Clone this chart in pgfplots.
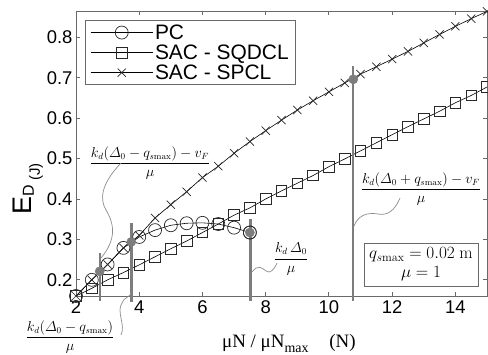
\documentclass[border=0pt]{standalone}
\usepackage{amsmath}
\usepackage[no-math]{fontspec}
\setmainfont{Liberation Sans}
\newfontfamily\serifrm{Liberation Serif}
\usepackage{pgfplots}
\pgfplotsset{compat=1.18}
\usepackage{pgfplotstable}
\definecolor{axiscol}{RGB}{105,105,105}
\definecolor{vcol}{RGB}{125,125,125}
\definecolor{leadcol}{RGB}{140,140,140}
\definecolor{mkcol}{RGB}{40,40,40}
\newcommand{\legfont}{\fontsize{21}{23}\selectfont}

\pgfplotstableread{
x y
2.0 0.160
2.5 0.200
3.0 0.238
3.5 0.279
4.0 0.306
4.5 0.323
5.0 0.335
5.5 0.340
6.0 0.341
6.5 0.338
7.0 0.329
7.5 0.317
}\pc
\pgfplotstableread{
x y
2.0 0.160
2.5 0.179
3.0 0.200
3.5 0.218
4.0 0.237
4.5 0.257
5.0 0.277
5.5 0.296
6.0 0.317
6.5 0.338
7.0 0.360
7.5 0.378
8.0 0.400
8.5 0.420
9.0 0.439
9.5 0.458
10.0 0.480
10.5 0.499
11.0 0.519
11.5 0.539
12.0 0.559
12.5 0.579
13.0 0.598
13.5 0.617
14.0 0.638
14.5 0.656
15.0 0.677
}\sqdcl
\pgfplotstableread{
x y
2.0 0.160
2.5 0.200
3.0 0.238
3.5 0.279
4.0 0.310
4.5 0.353
5.0 0.386
5.5 0.418
6.0 0.453
6.5 0.481
7.0 0.513
7.5 0.542
8.0 0.569
8.5 0.595
9.0 0.620
9.5 0.643
10.0 0.665
10.5 0.687
11.0 0.709
11.5 0.727
12.0 0.746
12.5 0.765
13.0 0.786
13.5 0.807
14.0 0.827
14.5 0.846
15.0 0.864
}\spcl

\begin{document}
\begin{tikzpicture}
\path[use as bounding box] (-76bp,-59bp) rectangle (412bp,296bp);
\begin{axis}[
  at={(0,0)}, anchor=south west,
  scale only axis, width=411bp, height=285bp,
  xmin=2, xmax=15, ymin=0.16, ymax=0.865,
  xtick={2,4,6,8,10,12,14},
  ytick={0.2,0.3,0.4,0.5,0.6,0.7,0.8},
  yticklabel style={/pgf/number format/.cd, fixed, fixed zerofill, precision=1},
  /pgf/number format/assume math mode=true,
  ticklabel style={font=\fontsize{18.5}{20}\selectfont, black},
  xticklabel style={yshift=-1bp},
  tick align=inside, major tick length=4bp,
  axis line style={axiscol, line width=0.9bp},
  tick style={axiscol, line width=0.9bp},
  clip=false,
  legend style={at={(0.022,0.968)}, anchor=north west, draw=axiscol, line width=0.8bp,
    font=\legfont, inner xsep=5bp, inner ysep=2bp,
    row sep=0bp, cells={anchor=west}},
  legend image code/.code={\draw[mark repeat=2,mark phase=2,#1] plot coordinates {(0bp,0bp) (31bp,0bp) (62bp,0bp)};},
]
\addplot[black, line width=0.6bp, mark=o, mark size=6.5bp, mark options={draw=mkcol, solid, line width=0.7bp}] table {\pc};
\addlegendentry{PC}
\addplot[black, line width=0.6bp, mark=square, mark size=5.3bp, mark options={draw=mkcol, solid, line width=0.7bp}] table {\sqdcl};
\addlegendentry{SAC - SQDCL}
\addplot[black, line width=0.6bp, mark=x, mark size=5.8bp, mark options={draw=mkcol, solid, line width=0.7bp}] table {\spcl};
\addlegendentry{SAC - SPCL}
% vertical marker lines
\addplot[vcol, line width=2.4bp, forget plot] coordinates {(2.75,0.148) (2.75,0.267)};
\addplot[vcol, line width=2.4bp, forget plot] coordinates {(3.75,0.146) (3.75,0.340)};
\addplot[vcol, line width=2.4bp, forget plot] coordinates {(7.52,0.148) (7.52,0.350)};
\addplot[vcol, line width=2.4bp, forget plot] coordinates {(10.77,0.148) (10.77,0.730)};
\addplot[only marks, mark=*, mark size=4.6bp, mark options={fill=vcol, draw=vcol}, forget plot]
  coordinates {(2.75,0.221) (3.75,0.294) (7.5,0.317) (10.77,0.696)};
\addplot[only marks, mark=o, mark size=6.5bp, mark options={draw=mkcol, line width=0.7bp}, forget plot]
  coordinates {(7.5,0.317)};
\end{axis}
% y label
\node[rotate=90, anchor=base west, inner sep=0pt] at (-44bp,81bp)
  {\fontsize{27}{29}\selectfont E\raisebox{-2bp}{\fontsize{16}{17}\selectfont D}\,\raisebox{-8bp}{\fontsize{15}{16}\selectfont (J)}};
% x label
\node[anchor=base west, inner sep=0pt] at (146bp,-51bp)
  {\serifrm\fontsize{19}{21}\selectfont μN / μN\raisebox{-5bp}{\fontsize{14}{15}\selectfont max}\hspace{1.1em}(N)};
% annotations
\begin{scope}[every node/.style={inner sep=0pt, font=\fontsize{13.5}{16}\selectfont}]
\node at (74bp,133bp) {$\displaystyle\frac{k_d(\varDelta_0 - q_{s\mathrm{max}}) - v_F}{\mu}$};
\node at (-6bp,-41bp) {$\displaystyle\frac{k_d(\varDelta_0 - q_{s\mathrm{max}})}{\mu}$};
\node at (215bp,37bp) {$\displaystyle\frac{k_d\,\varDelta_0}{\mu}$};
\node at (345bp,107bp) {$\displaystyle\frac{k_d(\varDelta_0 + q_{s\mathrm{max}}) - v_F}{\mu}$};
\end{scope}
\node[draw=axiscol, line width=0.8bp, minimum width=114bp, minimum height=43bp, align=center, inner sep=2bp,
  font=\fontsize{17}{19}\selectfont] at (345bp,31.5bp)
  {$q_{s\mathrm{max}} = 0.02\ \mathrm{m}$\\$\mu = 1$};
% leader curves (pixel -> bp: X=px-76, Y=296-py)
\begin{scope}[leadcol, line width=0.7bp]
\draw (45bp,133bp) .. controls (24bp,111bp) and (24bp,96bp) .. (30bp,86bp) .. controls (39bp,71bp) and (40bp,56bp) .. (25bp,38bp);
\draw (45bp,-39bp) .. controls (50bp,-29bp) and (40bp,-16bp) .. (46bp,-7bp) .. controls (49bp,0bp) and (54bp,-2bp) .. (55.5bp,4bp);
\draw (176bp,24bp) .. controls (182bp,32bp) and (186bp,28bp) .. (190bp,25bp) .. controls (194bp,22bp) and (198bp,26bp) .. (201bp,33bp);
\draw (324bp,98bp) .. controls (319bp,86bp) and (312bp,80bp) .. (302bp,82bp) .. controls (290bp,84bp) and (282bp,80bp) .. (278bp,70bp);
\end{scope}
\end{tikzpicture}
\end{document}
